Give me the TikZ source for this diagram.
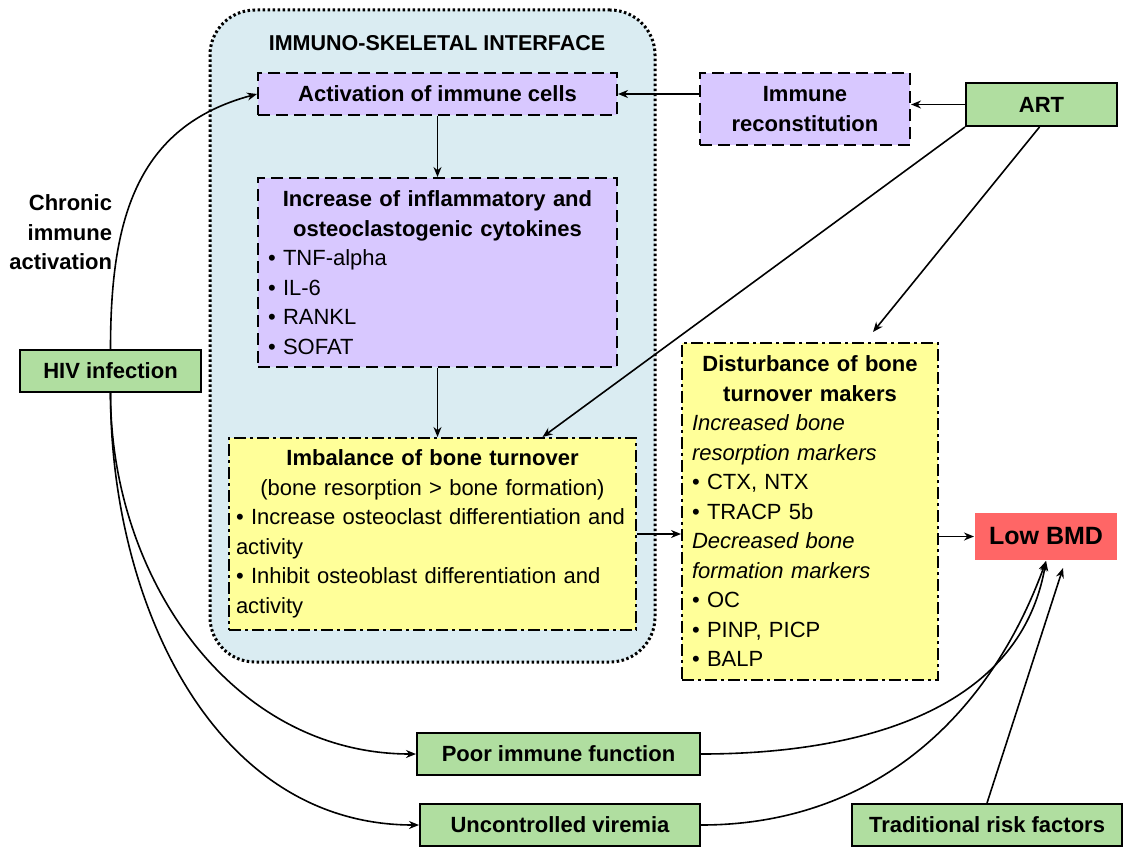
\documentclass[tikz,border=0pt]{standalone}
\usepackage{fontspec}
\setmainfont{Liberation Sans}
\usetikzlibrary{positioning,backgrounds,arrows.meta}
\definecolor{powderblue}{RGB}{218,236,242}
\definecolor{palelavender}{RGB}{216,200,255}
\definecolor{paleyellow}{RGB}{255,255,153}
\definecolor{mossgreen}{RGB}{176,222,160}
\definecolor{salmonred}{RGB}{255,102,102}

\begin{document}
\begin{tikzpicture}[x=1pt,y=-1pt]
                \tikzset{
                  boite/.style={
                    draw,line width=2pt,align=center,inner sep=0pt,
                    font=\fontsize{22}{29.5}\selectfont\bfseries,text=black,
                  },
                  boite verte/.style={boite,fill=mossgreen},
                  boite tirets/.style={boite,fill=palelavender,dash pattern=on 12pt off 6pt},
                  boite mixte/.style={boite,fill=paleyellow,dash pattern=on 12pt off 4pt on 3pt off 4pt},
                  contenu/.style={font=\fontsize{22}{29.5}\selectfont,align=left,inner xsep=10pt},
                  interface/.style={
                    draw,line width=3pt,dash pattern=on 2.5pt off 2.5pt,fill=powderblue,
                    rounded corners=45pt,minimum width=445pt,minimum height=652pt,
                  },
                  fleche/.style={line width=1.6pt,-{Stealth[length=10pt,width=8pt]}},
                  }
                \useasboundingbox (0,0) rectangle (1123,848);
                \node[boite, draw=none, font=\fontsize{21.5}{26}\selectfont\bfseries] (titre) at (437,43) {IMMUNO-SKELETAL INTERFACE};
                \node[boite tirets, minimum width=359pt, minimum height=42pt] (act) at (437.5,94) {Activation of immune cells};
                \node[boite tirets, contenu, text width=339pt, minimum height=189pt] (inc) at (437.5,272.5) {{\centering\bfseries Increase of inflammatory and\\osteoclastogenic cytokines\par}• TNF-alpha\\• IL-6\\• RANKL\\• SOFAT};
                \node[boite mixte, contenu, inner xsep=7pt, text width=393pt, minimum height=192pt] (imb) at (432.5,534) {{\centering{\bfseries Imbalance of bone turnover}\\(bone resorption > bone formation)\par}• Increase osteoclast differentiation and\\activity\\• Inhibit osteoblast differentiation and\\activity};
                \node[boite tirets, minimum width=210pt, minimum height=72pt] (rec) at (805,109) {Immune\\reconstitution};
                \node[boite verte, minimum width=151pt, minimum height=43pt] (art) at (1041.5,104.5) {ART};
                \node[boite mixte, contenu, text width=236pt, minimum height=337pt] (dist) at (810,511.5) {{\centering\bfseries Disturbance of bone\\turnover makers\par}\textit{Increased bone}\\\textit{resorption markers}\\• CTX, NTX\\• TRACP 5b\\\textit{Decreased bone}\\\textit{formation markers}\\• OC\\• PINP, PICP\\• BALP};
                \node[boite, draw=none, fill=salmonred, font=\fontsize{25}{30}\selectfont\bfseries, minimum width=142pt, minimum height=47pt] (bmd) at (1046,536.5) {Low BMD};
                \node[boite verte, minimum width=181pt, minimum height=42pt] (hiv) at (110.5,371) {HIV infection};
                \node[boite, draw=none, align=right, anchor=north east] (chron) at (113,194) {Chronic\\immune\\activation};
                \node[boite verte, minimum width=283pt, minimum height=42pt] (poor) at (558.5,754) {Poor immune function};
                \node[boite verte, minimum width=280pt, minimum height=42pt] (vir) at (560,825) {Uncontrolled viremia};
                \node[boite verte, minimum width=270pt, minimum height=42pt] (trad) at (987,825) {Traditional risk factors};

                \begin{scope}[on background layer]
                    \node[interface] (isi) at (432.5,336) {};
                \end{scope}

                \draw[fleche] (rec.west |- act.east) -- (act.east);
                \draw[fleche] (art.west) -- (art.west -| rec.east);
                \draw[fleche] (act.south) -- (inc.north);
                \draw[fleche] (inc.south) -- (inc.south |- imb.north);
                \draw[fleche] (art.south west) -- ([xshift=110pt]imb.north);
                \draw[fleche] ([xshift=-2pt]art.south) -- ([xshift=63pt,yshift=10pt]dist.north);
                \draw[fleche] (imb.east) -- (imb.east -| dist.west);
                \draw[fleche] (dist.east |- bmd.west) -- (bmd.west);
                \draw[fleche] (hiv.north) to[out=90,in=195,looseness=1.1] (act.west);
                \draw[fleche] (hiv.south) to[out=-90,in=180] (poor.west);
                \draw[fleche] (hiv.south) to[out=-90,in=180] (vir.west);
                \draw[fleche] (poor.east) to[out=0,in=-100] (bmd.south);
                \draw[fleche] (vir.east) to[out=0,in=-110] (bmd.south);
                \draw[fleche] (trad.north) -- ([xshift=17pt,yshift=-7pt]bmd.south);
              \end{tikzpicture}
\end{document}
